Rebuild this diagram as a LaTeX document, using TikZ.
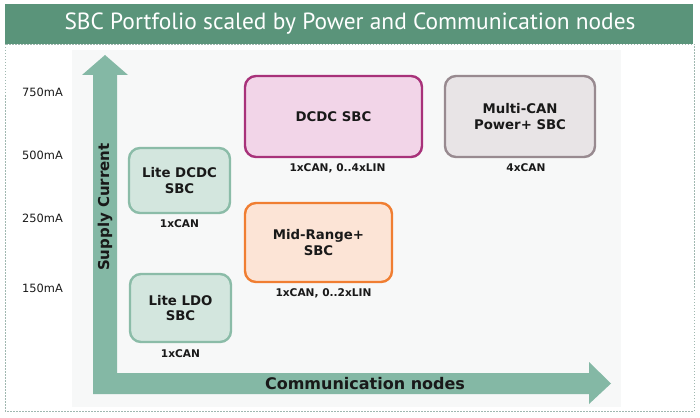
\documentclass[tikz,border=0pt]{standalone}
\usepackage{fontspec}
\setmainfont{DejaVu Sans}
\newfontfamily\titlefont{PT Sans}
\usepackage{tikz}
\usetikzlibrary{positioning}

\definecolor{headgreen}{RGB}{90,148,122}
\definecolor{axisgreen}{RGB}{132,184,165}
\definecolor{framegray}{RGB}{160,184,176}
\definecolor{panelgray}{RGB}{247,248,248}
\definecolor{litefill}{RGB}{211,230,222}
\definecolor{litedraw}{RGB}{139,188,168}
\definecolor{dcdcfill}{RGB}{242,213,232}
\definecolor{dcdcdraw}{RGB}{168,50,122}
\definecolor{multifill}{RGB}{232,228,230}
\definecolor{multidraw}{RGB}{152,138,144}
\definecolor{midfill}{RGB}{252,228,214}
\definecolor{middraw}{RGB}{240,126,50}
\definecolor{textdark}{RGB}{25,25,25}

\tikzset{
  sbcbox/.style={draw, line width=2.4pt, rounded corners=11pt, align=center,
    font=\fontsize{13.3}{15.5}\selectfont\bfseries, text=textdark},
  canlabel/.style={font=\fontsize{10.6}{12}\selectfont\bfseries, text=textdark, inner sep=0pt},
  currlabel/.style={font=\fontsize{11.4}{13}\selectfont, text=textdark, anchor=west, inner sep=0pt}
}

\begin{document}
\begin{tikzpicture}[x=1pt, y=-1pt]
\useasboundingbox (0,0) rectangle (700,417);

% frame and title
\draw[framegray, line width=0.8pt, dash pattern=on 1.5pt off 1.5pt] (5,44) rectangle (694,411);
\fill[headgreen] (5,4) rectangle (693,44);
\fill[panelgray] (72,50) rectangle (621,407);
\node[text=white, font=\titlefont\fontsize{23.4}{27}\selectfont] (title) at (350,24)
  {SBC Portfolio scaled by Power and Communication nodes};

% axes
\fill[axisgreen] (93,394) -- (93,75) -- (82,75) -- (105,55) -- (128,75) -- (117,75)
  -- (117,373) -- (589,373) -- (589,362) -- (611,383.5) -- (589,404) -- (589,394) -- cycle;
\node[rotate=90, font=\fontsize{15}{18}\selectfont\bfseries, text=textdark] (yaxis) at (105,207) {Supply Current};
\node[font=\fontsize{16}{19}\selectfont\bfseries, text=textdark] (xaxis) at (365,384) {Communication nodes};

% current levels
\node[currlabel] (c750) at (22,92) {750mA};
\node[currlabel] (c500) at (22,155) {500mA};
\node[currlabel] (c250) at (22,218) {250mA};
\node[currlabel] (c150) at (22,288) {150mA};

% SBC families
\node[sbcbox, fill=litefill, draw=litedraw, minimum width=101pt, minimum height=65pt] (litedcdc) at (179.5,180.5) {Lite DCDC\\SBC};
\node[sbcbox, fill=litefill, draw=litedraw, minimum width=101pt, minimum height=68pt] (liteldo) at (180.5,308) {Lite LDO\\SBC};
\node[sbcbox, fill=dcdcfill, draw=dcdcdraw, minimum width=177pt, minimum height=81pt] (dcdc) at (333.5,116.5) {DCDC SBC};
\node[sbcbox, fill=multifill, draw=multidraw, minimum width=150pt, minimum height=81pt] (multican) at (520,116.5) {Multi-CAN\\Power+ SBC};
\node[sbcbox, fill=midfill, draw=middraw, minimum width=147pt, minimum height=79pt] (midrange) at (318.5,242.5) {Mid-Range+\\SBC};

\node[canlabel, below=5pt of litedcdc] (litedcdcbus) {1xCAN};
\node[canlabel, below=6pt of liteldo] (liteldobus) {1xCAN};
\node[canlabel, below=5pt of dcdc, xshift=4pt] (dcdcbus) {1xCAN, 0..4xLIN};
\node[canlabel, below=5pt of multican, xshift=6pt] (multicanbus) {4xCAN};
\node[canlabel, below=5pt of midrange, xshift=5pt] (midrangebus) {1xCAN, 0..2xLIN};
\end{tikzpicture}
\end{document}
